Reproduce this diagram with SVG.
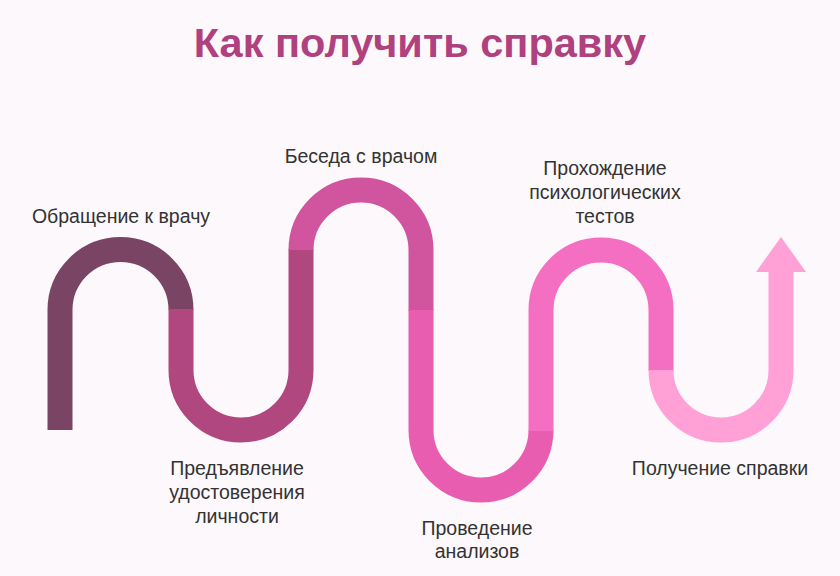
<svg xmlns="http://www.w3.org/2000/svg" width="840" height="576" viewBox="0 0 840 576">
<style>
.s{fill:none;stroke-width:25}
.t{font-family:"Liberation Sans",Arial,sans-serif;font-size:19.5px;fill:#333;text-anchor:middle}
</style>
<rect width="840" height="576" fill="#fcf8fb"/>
<text x="420" y="57" font-family="Liberation Sans,Arial,sans-serif" font-size="41.5" font-weight="bold" fill="#b0417f" text-anchor="middle">Как получить справку</text>
<g id="connectors">
<path class="s" stroke="#7a4565" d="M60,430 V310 A60,60 0 0 1 181,310"/>
<path class="s" stroke="#b0477f" d="M181,309 V370 A60,60 0 0 0 301,370 V249"/>
<path class="s" stroke="#d1559e" d="M301,250 A60,60 0 0 1 421,250 V311"/>
<path class="s" stroke="#e85db0" d="M421,310 V430 A60,60 0 0 0 541,430"/>
<path class="s" stroke="#f46fc2" d="M541,431 V310 A60,60 0 0 1 661,310 V371"/>
<path class="s" stroke="#ffa0d6" d="M661,370 A60,60 0 0 0 781,370 V268"/>
<polygon points="756,272 806,272 781,237" fill="#ffa0d6"/>
</g>
<g id="n1"><text class="t" x="121" y="223">Обращение к врачу</text></g>
<g id="n2"><text class="t" x="237" y="475">Предъявление</text><text class="t" x="237" y="499">удостоверения</text><text class="t" x="237" y="523">личности</text></g>
<g id="n3"><text class="t" x="361" y="163">Беседа с врачом</text></g>
<g id="n4"><text class="t" x="477" y="535">Проведение</text><text class="t" x="477" y="558">анализов</text></g>
<g id="n5"><text class="t" x="605" y="175">Прохождение</text><text class="t" x="605" y="199">психологических</text><text class="t" x="605" y="223">тестов</text></g>
<g id="n6"><text class="t" x="720" y="475">Получение справки</text></g>
</svg>
